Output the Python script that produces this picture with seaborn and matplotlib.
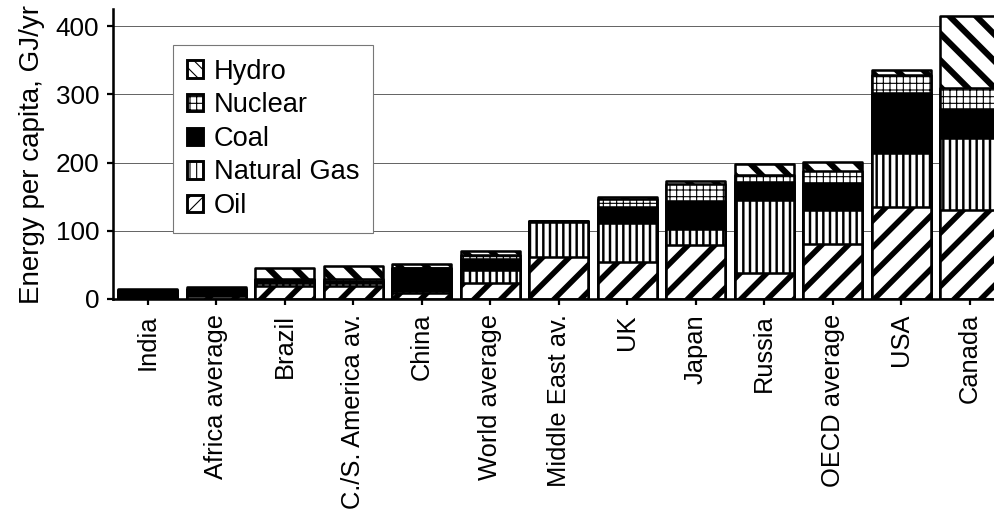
import matplotlib
matplotlib.use("Agg")
import matplotlib.pyplot as plt
import seaborn as sns
import numpy as np
from matplotlib.patches import Patch

categories = ['India', 'Africa average', 'Brazil', 'C./S. America av.', 'China',
              'World average', 'Middle East av.', 'UK', 'Japan', 'Russia',
              'OECD average', 'USA', 'Canada']
oil = [3, 4, 19, 19, 9, 24, 61, 54, 79, 38, 81, 135, 130]
natural_gas = [1, 2, 4, 5, 2, 18, 52, 57, 23, 107, 49, 79, 106]
coal = [9, 9, 5, 3, 34, 16, 1, 24, 42, 27, 40, 88, 43]
nuclear = [0.3, 0.2, 1, 3, 1, 6, 0, 12, 25, 10, 18, 26, 30]
hydro = [2, 2, 17, 18, 5, 7, 1, 2, 4, 16, 13, 8, 106]
y_ticks = [0, 100, 200, 300, 400]

sns.set_theme(style="white")
plt.rcParams['font.family'] = ['Liberation Sans', 'DejaVu Sans']
plt.rcParams['text.color'] = 'black'
plt.rcParams['axes.labelcolor'] = 'black'
plt.rcParams['xtick.color'] = 'black'
plt.rcParams['ytick.color'] = 'black'

DPI = 80
fig = plt.figure(figsize=(994 / DPI, 512 / DPI), dpi=DPI)
ax = fig.add_axes([113 / 994, (512 - 299) / 512, 891 / 994, 290 / 512])

series = [
    ('Oil', oil, dict(hatch='/', lhatch='//', hlw=5.0, face='white')),
    ('Natural Gas', natural_gas, dict(hatch='||', lhatch='||', hlw=2.2, face='white')),
    ('Coal', coal, dict(hatch=None, lhatch=None, hlw=1.0, face='black')),
    ('Nuclear', nuclear, dict(hatch='++', lhatch='++', hlw=1.0, face='white')),
    ('Hydro', hydro, dict(hatch='\\', lhatch='\\\\', hlw=5.5, face='white')),
]

cum = np.cumsum(np.array([s[1] for s in series], dtype=float), axis=0)

# draw cumulative layers from top (largest) to bottom so each segment shows
for i in range(len(series) - 1, -1, -1):
    name, vals, st = series[i]
    n_before = len(ax.patches)
    with plt.rc_context({'hatch.linewidth': st['hlw'], 'hatch.color': 'black'}):
        sns.barplot(x=categories, y=cum[i], order=categories, color=st['face'],
                    saturation=1, edgecolor='black', linewidth=2.3,
                    hatch=st['hatch'], width=0.86, errorbar=None, ax=ax)
    for p in ax.patches[n_before:]:
        p.set_facecolor(st['face'])
        p.set_joinstyle('round')
        if hasattr(p, 'set_hatch_linewidth'):
            p.set_hatch_linewidth(st['hlw'])

ax.set_xlim(-0.51, 12.5)
ax.set_ylim(0, 425)
ax.set_yticks(y_ticks)
ax.set_axisbelow(True)
ax.yaxis.grid(True, color='#666666', linewidth=0.9)
ax.xaxis.grid(False)

for side in ['top', 'right']:
    ax.spines[side].set_visible(False)
for side in ['left', 'bottom']:
    ax.spines[side].set_color('black')
    ax.spines[side].set_linewidth(2.3)

ax.tick_params(axis='y', which='major', direction='out', length=5.5, width=2,
               color='black', labelcolor='black', labelsize=23.5, pad=7, left=True)
ax.tick_params(axis='x', which='major', direction='out', length=5.5, width=2,
               color='black', labelcolor='black', labelsize=23, pad=8, bottom=True)
ax.set_xticks(range(len(categories)))
ax.set_xticklabels(categories, rotation=90, va='top', ha='center')
ax.set_xlabel('')
ax.set_ylabel('Energy per capita, GJ/yr', fontsize=25, labelpad=9, color='black')

# legend
handles = []
labels = []
for name, vals, st in reversed(series):
    lw_h = st['hlw'] * 0.6
    with plt.rc_context({'hatch.linewidth': lw_h}):
        h = Patch(facecolor=st['face'], edgecolor='black', hatch=st['lhatch'],
                  linewidth=2.6)
    if hasattr(h, 'set_hatch_linewidth'):
        h.set_hatch_linewidth(lw_h)
    handles.append(h)
    labels.append(name)

leg = ax.legend(handles, labels, loc='upper left',
                bbox_to_anchor=(173 / 994, 1 - 45 / 512),
                bbox_transform=fig.transFigure, fontsize=24.5,
                frameon=True, fancybox=False, shadow=False, framealpha=1,
                edgecolor='#777777', handlelength=0.6, handleheight=0.6,
                handletextpad=0.4, labelspacing=0.28, borderpad=0.5,
                borderaxespad=0)
leg.get_frame().set_linewidth(1.0)
for t in leg.get_texts():
    t.set_color('black')

fig.savefig('out.png', dpi=DPI)
